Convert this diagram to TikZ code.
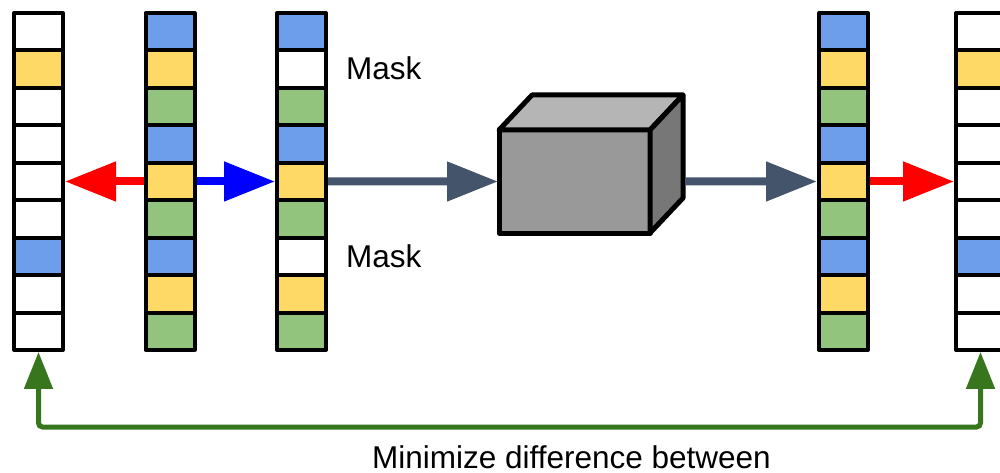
\documentclass[tikz,border=0pt]{standalone}
\usepackage{fontspec}
\setmainfont{Liberation Sans}
\usetikzlibrary{arrows.meta}
\definecolor{cblue}{HTML}{6D9EEB}
\definecolor{cyellow}{HTML}{FFD966}
\definecolor{cgreen}{HTML}{93C47D}
\definecolor{slate}{HTML}{44546A}
\definecolor{lossgreen}{HTML}{38761D}
\definecolor{cubefront}{HTML}{999999}
\definecolor{cubetop}{HTML}{B5B5B5}
\definecolor{cubeside}{HTML}{777777}
\begin{document}
\begin{tikzpicture}[x=1pt,y=-1pt,
  cell/.style={draw=black, line width=4pt, minimum width=49pt, minimum height=37.44pt,
    inner sep=0pt, line join=round},
  flow/.style={line width=8pt, -{Triangle[length=51pt,width=38pt]}},
  lbl/.style={font=\fontsize{31.5}{36}\selectfont, inner sep=0pt},
  face/.style={draw=black, line width=5pt, line join=round},
  lossline/.style={draw=lossgreen, line width=5pt, rounded corners=4pt,
    {Triangle[length=37pt,width=28pt]}-{Triangle[length=37pt,width=28pt]}}]
\useasboundingbox (0,0) rectangle (1000,473);

% original sequence
\foreach \c [count=\i] in {white,cyellow,white,white,white,white,cblue,white,white}
  \node[cell, fill=\c] (c1-\i) at (38.5, {13+(\i-0.5)*37.44}) {};
% full sequence
\foreach \c [count=\i] in {cblue,cyellow,cgreen,cblue,cyellow,cgreen,cblue,cyellow,cgreen}
  \node[cell, fill=\c] (c2-\i) at (170, {13+(\i-0.5)*37.44}) {};
% masked sequence
\foreach \c [count=\i] in {cblue,white,cgreen,cblue,cyellow,cgreen,white,cyellow,cgreen}
  \node[cell, fill=\c] (c3-\i) at (301.5, {13+(\i-0.5)*37.44}) {};
% model output
\foreach \c [count=\i] in {cblue,cyellow,cgreen,cblue,cyellow,cgreen,cblue,cyellow,cgreen}
  \node[cell, fill=\c] (c4-\i) at (843.5, {13+(\i-0.5)*37.44}) {};
% reconstructed sequence
\foreach \c [count=\i] in {white,cyellow,white,white,white,white,cblue,white,white}
  \node[cell, fill=\c] (c5-\i) at (980.5, {13+(\i-0.5)*37.44}) {};

% model block (cube)
\node[face, fill=cubefront, minimum width=151pt, minimum height=103pt, outer sep=0pt] (cube) at (574.5,181.5) {};
\fill[cubetop, draw=black, line width=5pt, line join=round]
  (cube.north west) -- ++(33,-35) -- ++(151,0) -- (cube.north east) -- cycle;
\fill[cubeside, draw=black, line width=5pt, line join=round]
  (cube.north east) -- ++(33,-35) -- ++(0,103) -- (cube.south east) -- cycle;

% connectors
\draw[flow, red] (c2-5.west) -- (c1-5.east);
\draw[flow, blue] (c2-5.east) -- (c3-5.west);
\draw[flow, slate] (c3-5.east) -- ([xshift=-1pt]cube.west);
\draw[flow, slate] ([xshift=35pt]cube.east) -- (c4-5.west);
\draw[flow, red] (c4-5.east) -- (c5-5.west);

% labels
\node[lbl, anchor=base west] (mask1) at (346,80) {Mask};
\node[lbl, anchor=base west] (mask2) at (346,267) {Mask};

% reconstruction loss
\coordinate (lossrow) at (0,427);
\draw[lossline] (c1-9.south) -- (c1-9.south |- lossrow) -- (c5-9.south |- lossrow) -- (c5-9.south);
\node[lbl, anchor=base west] (losslabel) at (372,468) {Minimize difference between};
\end{tikzpicture}
\end{document}
